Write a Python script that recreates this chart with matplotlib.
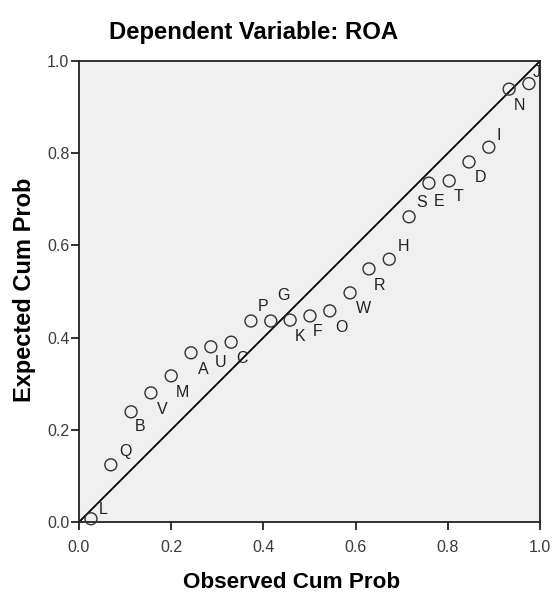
import numpy as np
import matplotlib
matplotlib.use("Agg")
import matplotlib.pyplot as plt

plt.rcParams['font.family'] = ['Liberation Sans', 'DejaVu Sans']

# case labels, ordered by observed cum prob
labels = ["L", "Q", "B", "V", "M", "A", "U", "C", "P", "G", "K", "F",
          "O", "W", "R", "H", "S", "E", "T", "D", "I", "N", "J"]
observed = [0.026, 0.069, 0.113, 0.156, 0.200, 0.243, 0.286, 0.330, 0.373,
            0.416, 0.458, 0.501, 0.544, 0.588, 0.629, 0.673, 0.716, 0.759,
            0.803, 0.846, 0.889, 0.933, 0.976]
expected = [0.007, 0.124, 0.239, 0.280, 0.317, 0.367, 0.380, 0.390, 0.436,
            0.436, 0.438, 0.447, 0.458, 0.497, 0.549, 0.570, 0.662, 0.735,
            0.740, 0.781, 0.813, 0.939, 0.951]
# label offsets in pixels (dx, dy), screen y up
label_off = [(12, 9), (15, 13), (9, -15), (11, -17), (11, -17), (12, -17),
             (10, -16), (11, -16), (12, 15), (13, 26), (10, -16), (8, -16),
             (12, -17), (13, -16), (11, -17), (14, 13), (13, 14), (10, -18),
             (9, -16), (11, -16), (10, 12), (10, -16), (8, 11)]
ticks = [0.0, 0.2, 0.4, 0.6, 0.8, 1.0]

fig = plt.figure(figsize=(5.54, 5.99), dpi=100)
ax = fig.add_axes([79/554, 1-522/599, 461/554, 461/599])
ax.set_facecolor('#F0F0F0')

ax.plot([0, 1], [0, 1], color='black', lw=1.3, zorder=2)
ax.scatter(observed, expected, s=74, facecolors='none', edgecolors='#333333',
           linewidths=1.0, zorder=3, clip_on=False)

for lab, x, y, (dx, dy) in zip(labels, observed, expected, label_off):
    ax.annotate(lab, (x, y), xytext=(dx * 0.72, dy * 0.72), textcoords='offset points',
                ha='center', va='center', fontsize=11.5, color='#222222')

ax.set_xlim(0, 1)
ax.set_ylim(0, 1)
ax.set_xticks(ticks)
ax.set_yticks(ticks)
ax.set_xticklabels(["%.1f" % t for t in ticks])
ax.set_yticklabels(["%.1f" % t for t in ticks])
ax.tick_params(direction='out', length=6, width=1.3, labelsize=11.5,
               labelcolor='#3a3a3a', color='#222222')
ax.tick_params(axis='x', pad=7)
ax.tick_params(axis='y', pad=1)
for s in ax.spines.values():
    s.set_color('#222222')
    s.set_linewidth(1.3)

fig.text(292/554, 1-582/599, "Observed Cum Prob", fontsize=16.2,
         fontweight='bold', ha='center', va='center')
fig.text(25/554, 1-290/599, "Expected Cum Prob", fontsize=17,
         fontweight='bold', ha='center', va='center', rotation=90)
fig.text(254/554, 1-33/599, "Dependent Variable: ROA", fontsize=17.2,
         fontweight='bold', ha='center', va='center')

fig.savefig("out.png", dpi=100)
